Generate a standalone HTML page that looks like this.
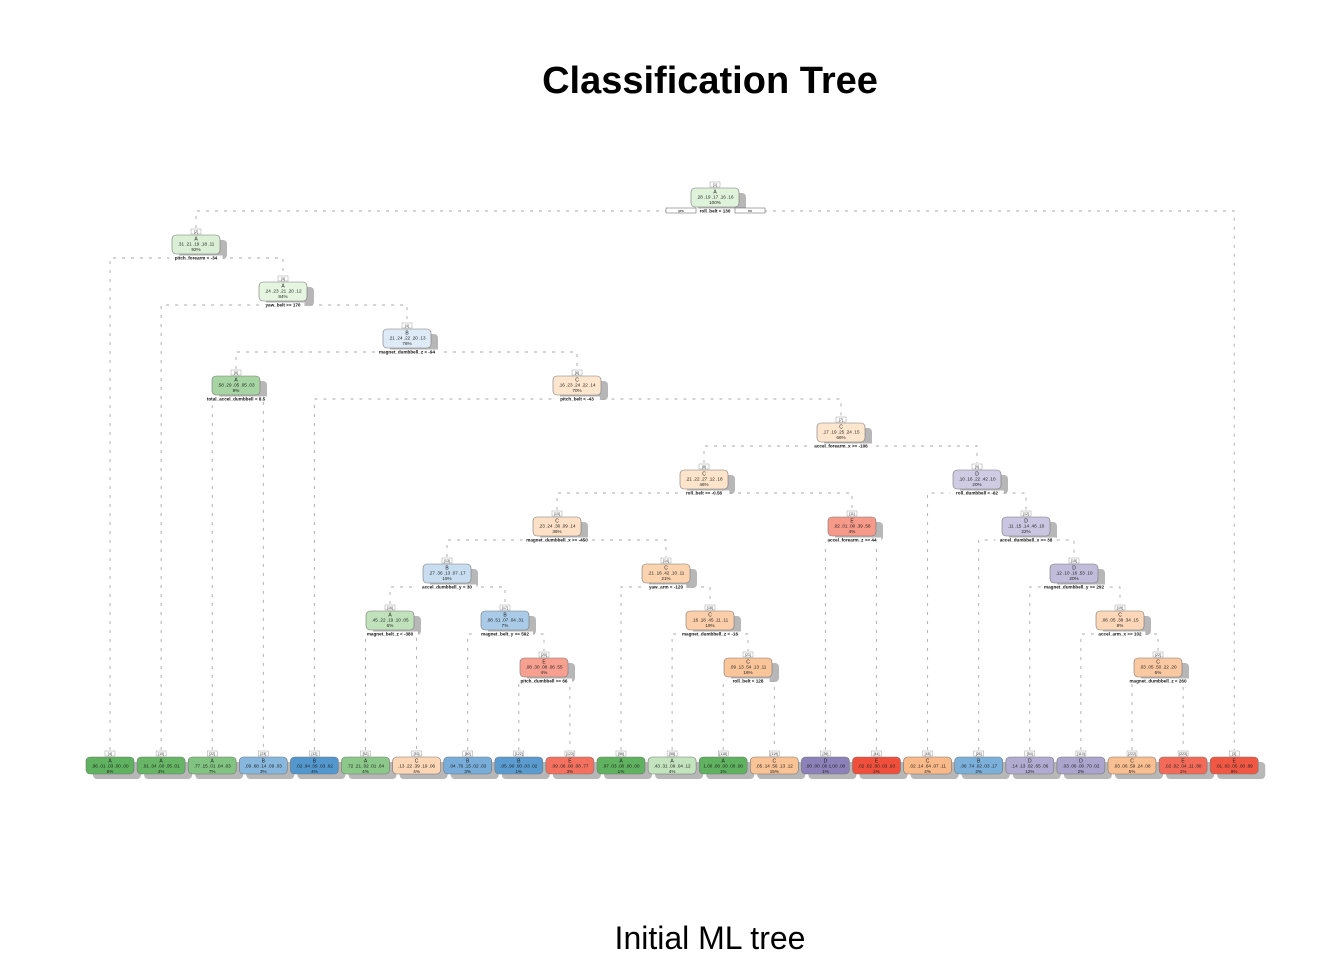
<!DOCTYPE html>
<html><head><meta charset="utf-8">
<style>
html,body{margin:0;padding:0;background:#fff;width:1344px;height:960px;overflow:hidden}
svg{display:block;font-family:"Liberation Sans",Arial,sans-serif}
</style></head>
<body>
<svg id="chart" width="1344" height="960" viewBox="0 0 1344 960">
<text x="710" y="93" text-anchor="middle" font-size="38" font-weight="bold" fill="#000">Classification Tree</text>
<text x="710" y="949" text-anchor="middle" font-size="32" fill="#000">Initial ML tree</text>
<g id="edges"></g>
<g id="nodes"></g>
</svg>
<script>
const nodeIds = [1,2,3,4,5,6,7,8,9,10,11,12,13,14,15,16,17,18,19,20,21,22];
const nodeClass = ["A","A","A","B","A","C","C","C","D","C","E","D","B","C","D","A","B","C","C","E","C","C"];
const nodeProbs = [
"0.28 .19 .17 .16 .16",".31 .21 .19 .18 .11",".24 .23 .21 .20 .12",".21 .24 .22 .20 .13",".58 .29 .05 .05 .03",
".16 .23 .24 .22 .14",".17 .19 .25 .24 .15",".21 .22 .27 .12 .18",".10 .16 .22 .42 .10",".23 .24 .30 .09 .14",
".02 .01 .00 .39 .58",".11 .15 .14 .46 .10",".27 .36 .13 .07 .17",".21 .16 .42 .10 .11",".12 .10 .16 .53 .10",
".45 .22 .19 .10 .05",".08 .51 .07 .04 .31",".16 .18 .45 .11 .11",".06 .05 .38 .34 .15",".08 .30 .08 .06 .55",
".09 .13 .54 .13 .11",".03 .05 .50 .22 .20"];
const nodePct = ["100%","92%","84%","76%","9%","70%","66%","46%","20%","36%","4%","22%","15%","21%","20%","6%","7%","19%","8%","4%","16%","6%"];
const nodeSplit = ["roll_belt < 130","pitch_forearm < -34","yaw_belt >= 170","magnet_dumbbell_z < -94","total_accel_dumbbell < 8.5","pitch_belt < -43","accel_forearm_x >= -106","roll_belt >= -0.56","roll_dumbbell < -62","magnet_dumbbell_x >= -450","accel_forearm_z >= 44","accel_dumbbell_x >= 38","accel_dumbbell_y < 30","yaw_arm < -120","magnet_dumbbell_y >= 292","magnet_belt_z < -380","magnet_belt_y >= 592","magnet_dumbbell_z < -16","accel_arm_x >= 102","pitch_dumbbell >= 66","roll_belt < 128","magnet_dumbbell_z < 260"];
const nodeDepth = [0,1,2,3,4,4,5,6,6,7,7,7,8,8,8,9,9,9,9,10,10,10];
const nodeX = [715,196,283,407,236,577,841,704,977,557,852,1026,447,666,1074,390,505,710,1120,544,748,1158];
const nodeKids = [["n2","l23"],["l1","n3"],["l2","n4"],["n5","n6"],["l3","l4"],["l5","n7"],["n8","n9"],["n10","n11"],["l17","n12"],["n13","n14"],["l15","l16"],["l18","n15"],["n16","n17"],["l11","n18"],["l19","n19"],["l6","l7"],["l8","n20"],["l12","n21"],["l20","n22"],["l9","l10"],["l13","l14"],["l21","l22"]];
const leafIds = [4,10,22,23,12,52,53,60,122,123,56,58,118,119,39,44,45,26,54,110,222,223,3];
const leafClass = ["A","A","A","B","B","A","C","B","B","E","A","A","A","C","D","E","C","B","D","D","C","E","E"];
const leafProbs = [".96 .01 .03 .00 .00",".91 .04 .00 .05 .01",".77 .15 .01 .04 .03",".09 .68 .14 .09 .03",".02 .94 .09 .03 .02",".72 .21 .02 .01 .04",".13 .22 .39 .19 .06",".04 .76 .15 .02 .03",".05 .90 .00 .03 .02",".09 .06 .00 .08 .77",".97 .03 .00 .00 .00",".43 .31 .09 .04 .12","1.00 .00 .00 .00 .00",".05 .14 .56 .13 .12",".00 .00 .00 1.00 .00",".02 .02 .00 .03 .93",".02 .14 .64 .07 .11",".06 .74 .02 .03 .17",".14 .13 .02 .65 .06",".03 .06 .00 .70 .02",".03 .06 .59 .24 .08",".02 .02 .04 .11 .80",".01 .03 .05 .00 .89"];
const leafPct = ["8%","4%","7%","3%","4%","4%","4%","3%","1%","3%","1%","4%","1%","15%","1%","2%","4%","2%","12%","2%","5%","1%","8%"];
const leafMax = [0.96,0.91,0.77,0.68,0.94,0.72,0.39,0.76,0.90,0.77,0.97,0.43,1.0,0.56,1.0,0.93,0.64,0.74,0.65,0.70,0.59,0.80,0.89];
const nodeMax = [0.28,0.31,0.24,0.24,0.58,0.24,0.25,0.27,0.42,0.30,0.58,0.46,0.36,0.42,0.53,0.45,0.51,0.45,0.38,0.55,0.54,0.50];

const NS="http://www.w3.org/2000/svg";
const W=48, NH=19, LH=17, LEAFY=757;
const leafX = i => 110 + i*51.1;
const nodeTop = d => 188 + 47*d;
const dark = {A:[95,178,95],B:[80,150,205],C:[246,150,80],D:[140,130,185],E:[240,75,55]};
const light = {A:[229,245,224],B:[222,235,247],C:[254,230,206],D:[228,226,240],E:[254,224,210]};
function col(c,p){let t=Math.max(0,Math.min(1,(p-0.25)/0.7));const a=light[c],b=dark[c];
 return "rgb("+a.map((v,i)=>Math.round(v+(b[i]-v)*t)).join(",")+")";}
const E=document.getElementById("edges"), N=document.getElementById("nodes");
function mk(tag,attrs,parent,text){const e=document.createElementNS(NS,tag);for(const k in attrs)e.setAttribute(k,attrs[k]);if(text!==undefined)e.textContent=text;parent.appendChild(e);return e;}

function drawBox(g,cx,top,h,fill,idTxt,cls,probs,pct){
 mk("rect",{x:cx-W/2+7,y:top+5,width:W,height:h,rx:4,fill:"#aaa",opacity:0.85},g);
 mk("rect",{x:cx-W/2,y:top,width:W,height:h,rx:4,fill:fill,stroke:"#777","stroke-width":0.6},g);
 mk("rect",{x:cx-5,y:top-6,width:10,height:5,fill:"#fff",stroke:"#888","stroke-width":0.4},g);
 mk("text",{x:cx,y:top-2,"text-anchor":"middle","font-size":3.5,fill:"#333"},g,idTxt);
 mk("text",{x:cx,y:top+5.5,"text-anchor":"middle","font-size":5,fill:"#222"},g,cls);
 mk("text",{x:cx,y:top+10.5,"text-anchor":"middle","font-size":4.6,fill:"#222"},g,probs.replace(/^0/,""));
 mk("text",{x:cx,y:top+16,"text-anchor":"middle","font-size":4.6,fill:"#222"},g,pct);
}
nodeKids.forEach((kids,i)=>{
 const y=nodeTop(nodeDepth[i])+NH+4;
 const pts=kids.map(k=>{const j=+k.slice(1)-1;return k[0]==="n"?[nodeX[j],nodeTop(nodeDepth[j])-7]:[leafX(j),LEAFY-7];});
 const xs=pts.map(p=>p[0]);
 const e=mk("path",{d:"M"+xs[0]+","+pts[0][1]+"V"+y+"H"+xs[1]+"V"+pts[1][1],fill:"none",stroke:"#aaa","stroke-width":0.9,"stroke-dasharray":"3,6"},E);
 
 
});
nodeIds.forEach((id,i)=>{
 const g=mk("g",{},N);
 
 
 const top=nodeTop(nodeDepth[i]);
 drawBox(g,nodeX[i],top,NH,col(nodeClass[i],nodeMax[i]),"["+id+"]",nodeClass[i],nodeProbs[i],nodePct[i]);
 const lbl=nodeSplit[i], lw=lbl.length*2.6+4;
 mk("rect",{x:nodeX[i]-lw/2,y:top+NH+1.5,width:lw,height:5,fill:"#fff"},g);
 mk("text",{x:nodeX[i],y:top+NH+5.6,"text-anchor":"middle","font-size":4.6,"font-weight":"bold",fill:"#111"},g,lbl);
 if(i===0){
  mk("rect",{x:666,y:208,width:30,height:5,fill:"#fff",stroke:"#555","stroke-width":0.5},g);
  mk("text",{x:681,y:212,"text-anchor":"middle","font-size":3.6},g,"yes");
  mk("rect",{x:735,y:208,width:30,height:5,fill:"#fff",stroke:"#555","stroke-width":0.5},g);
  mk("text",{x:750,y:212,"text-anchor":"middle","font-size":3.6},g,"no");
 }
});
leafIds.forEach((id,i)=>{
 const g=mk("g",{},N);
 
 
 drawBox(g,leafX(i),LEAFY,LH,col(leafClass[i],leafMax[i]),"["+id+"]",leafClass[i],leafProbs[i],leafPct[i]);
});
</script>
</body></html>
